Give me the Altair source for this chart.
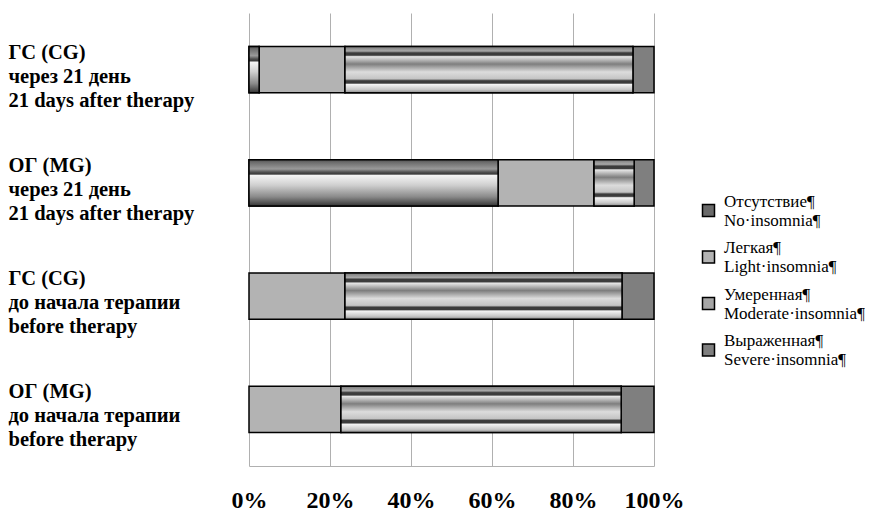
import altair as alt
import pandas as pd

groups = [
    "ГС (CG)|через 21 день|21 days after therapy",
    "ОГ (MG)|через 21 день|21 days after therapy",
    "ГС (CG)|до начала терапии|before therapy",
    "ОГ (MG)|до начала терапии|before therapy",
]
categories = [
    "Отсутствие¶|No·insomnia¶",
    "Легкая¶|Light·insomnia¶",
    "Умеренная¶|Moderate·insomnia¶",
    "Выраженная¶|Severe·insomnia¶",
]
no_insomnia = [2.5, 61.5, 0.0, 0.0]
light = [21.2, 23.7, 23.7, 22.7]
moderate = [71.1, 9.9, 68.4, 69.2]
severe = [5.2, 4.9, 7.9, 8.1]
x_ticks = [0, 20, 40, 60, 80, 100]
legend_colors = ["#6a6a6a", "#b3b3b3", "#a6a6a6", "#7f7f7f"]

series = [no_insomnia, light, moderate, severe]
rows = []
for gi, g in enumerate(groups):
    for ci, c in enumerate(categories):
        rows.append({"group": g, "category": c, "order": ci, "value": series[ci][gi]})
df = pd.DataFrame(rows)

FONT = "Liberation Serif"


def grad(stops):
    return alt.Gradient(
        gradient="linear",
        stops=[alt.GradientStop(offset=o, color=c) for o, c in stops],
        x1=0, x2=0, y1=0, y2=1,
    )


grad_no = grad([
    (0.0, "#4a4a4a"), (0.05, "#6a6a6a"), (0.2, "#9a9a9a"), (0.27, "#505050"),
    (0.31, "#3a3a3a"), (0.34, "#f4f4f4"), (0.55, "#cfcfcf"), (0.8, "#8a8a8a"),
    (0.95, "#4a4a4a"), (1.0, "#333333"),
])
grad_mod = grad([
    (0.0, "#7a7a7a"), (0.1, "#a8a8a8"), (0.14, "#3c3c3c"), (0.19, "#3c3c3c"),
    (0.22, "#e6e6e6"), (0.38, "#7e7e7e"), (0.55, "#dcdcdc"), (0.7, "#c4c4c4"),
    (0.74, "#3c3c3c"), (0.79, "#3c3c3c"), (0.82, "#f4f4f4"), (0.93, "#c8c8c8"),
    (1.0, "#8a8a8a"),
])

y_enc = alt.Y(
    "group:N",
    sort=groups,
    scale=alt.Scale(paddingInner=0.59, paddingOuter=0.295),
    axis=alt.Axis(
        title=None,
        labelExpr="split(datum.label, '|')",
        labelAlign="left",
        labelPadding=241,
        ticks=False,
        domain=False,
        grid=False,
        labelFont=FONT,
        labelFontWeight="bold",
        labelFontSize=20.5,
        labelLineHeight=24,
        labelColor="black",
        labelLimit=400,
        labelOffset=-17,
    ),
)
x_enc = alt.X(
    "x0:Q",
    scale=alt.Scale(domain=[0, 100]),
    axis=alt.Axis(
        title=None,
        values=x_ticks,
        labelExpr="datum.value + '%'",
        ticks=False,
        grid=True,
        gridColor="#b0b0b0",
        gridWidth=1,
        domainColor="#b0b0b0",
        labelFont=FONT,
        labelFontWeight="bold",
        labelFontSize=24,
        labelColor="black",
        labelPadding=22,
        labelOverlap=False,
        labelFlush=False,
    ),
)


def stacked():
    return alt.Chart(df).transform_stack(
        stack="value",
        groupby=["group"],
        as_=["x0", "x1"],
        sort=[alt.SortField("order", order="ascending")],
    ).transform_filter("datum.value > 0")


base = stacked().mark_bar(stroke="black", strokeWidth=1.5).encode(
    y=y_enc,
    x=x_enc,
    x2="x1:Q",
    color=alt.Color(
        "category:N",
        sort=categories,
        scale=alt.Scale(domain=categories, range=legend_colors),
        legend=alt.Legend(
            title=None,
            orient="none",
            legendX=451,
            legendY=189,
            padding=0,
            symbolType="square",
            symbolSize=144,
            symbolStrokeColor="black",
            symbolStrokeWidth=1.5,
            labelFont=FONT,
            labelFontSize=17,
            labelColor="black",
            labelExpr="split(datum.label, '|')",
            labelBaseline="bottom",
            labelOffset=7,
            labelLimit=400,
            rowPadding=9.5,
        ),
    ),
)


def overlay(cat, fill):
    return stacked().transform_filter(
        alt.datum.category == cat
    ).mark_bar(fill=fill, stroke="black", strokeWidth=1.5).encode(
        y=y_enc, x=x_enc, x2="x1:Q"
    )


chart = alt.layer(
    base,
    overlay(categories[0], grad_no),
    overlay(categories[2], grad_mod),
).properties(
    width=405,
    height=453,
    padding={"left": 0, "top": 5, "right": 0, "bottom": 0},
).configure_view(stroke=None)

chart.save("out.html", embed_options={"renderer": "svg", "actions": False})
